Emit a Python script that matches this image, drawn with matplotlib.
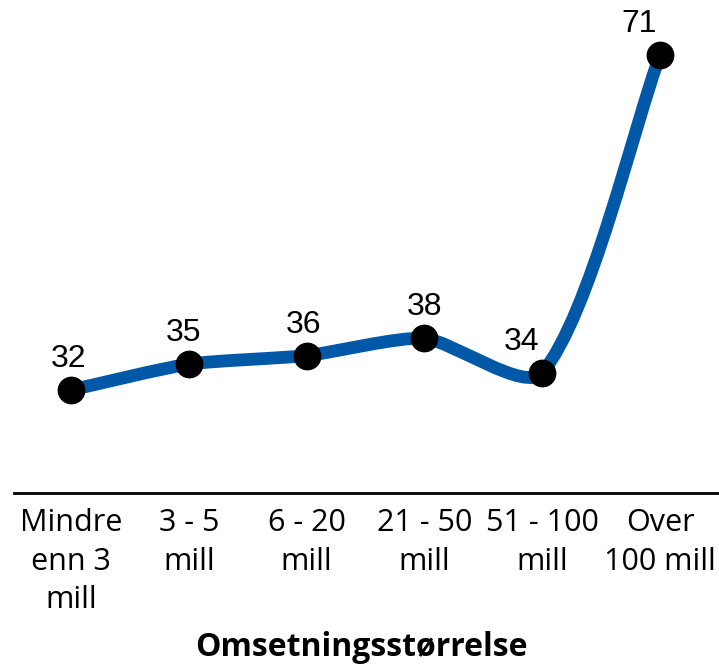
import matplotlib
matplotlib.use('Agg')
import matplotlib.pyplot as plt
import numpy as np
from matplotlib.path import Path
from matplotlib.patches import PathPatch

# ── data ────────────────────────────────────────────────────────────────────
categories = ['Mindre\nenn 3\nmill', '3 - 5\nmill', '6 - 20\nmill',
              '21 - 50\nmill', '51 - 100\nmill', 'Over\n100 mill']
values = [32, 35, 36, 38, 34, 71]
xlabel = 'Omsetningsstørrelse'

C_LINE = '#0058A6'
TICK_FONT = 'Open Sans'
LABEL_FONT = 'Liberation Sans'
# horizontal nudge (points) of each value label, as in the original
label_dx = [-2, -4, -2, 0, -15, -15]

W, H = 719, 665
fig = plt.figure(figsize=(W / 100, H / 100), dpi=100)
fig.patch.set_facecolor('white')
ax = fig.add_axes([14 / W, 1 - 493 / H, (W - 14) / W, 493 / H])
ax.set_xlim(-0.484, 5.5)
ax.set_ylim(20, 77.4)

x = np.arange(len(values))
y = np.array(values, dtype=float)

# ── smoothed line (bezier through the points, built in display space) ───────
pts = ax.transData.transform(np.column_stack([x, y]))
n = len(pts)
tang = []
for i in range(n):
    a = pts[max(i - 1, 0)]
    b = pts[min(i + 1, n - 1)]
    d = b - a
    tang.append(d / np.hypot(*d))
k = 0.22
verts = [pts[0]]
codes = [Path.MOVETO]
for i in range(n - 1):
    seg = np.hypot(*(pts[i + 1] - pts[i]))
    verts += [pts[i] + tang[i] * seg * k,
              pts[i + 1] - tang[i + 1] * seg * k,
              pts[i + 1]]
    codes += [Path.CURVE4] * 3
verts = ax.transData.inverted().transform(np.array(verts))
ax.add_patch(PathPatch(Path(verts, codes), fill=False, edgecolor=C_LINE,
                       lw=9.2, capstyle='round', joinstyle='round',
                       clip_on=False, zorder=2))

ax.plot(x, y, 'o', color='black', markersize=19, clip_on=False, zorder=3)

for xi, yi, dx in zip(x, values, label_dx):
    ax.annotate(str(yi), (xi, yi), xytext=(dx, 16.5), textcoords='offset points',
                ha='center', va='baseline', fontsize=23,
                family=LABEL_FONT, color='black')

# ── axes styling ────────────────────────────────────────────────────────────
for s in ['top', 'right', 'left']:
    ax.spines[s].set_visible(False)
ax.spines['bottom'].set_linewidth(2)
ax.spines['bottom'].set_color('black')
ax.set_yticks([])
ax.set_xticks(x)
ax.set_xticklabels(categories, fontsize=22, family=TICK_FONT,
                   linespacing=1.37)
ax.tick_params(axis='x', length=0, pad=11)

fig.text(0.502, 9 / H, xlabel, ha='center', va='baseline',
         fontsize=23, fontweight='bold', family=TICK_FONT)

plt.savefig('out.png', dpi=100, facecolor='white')
